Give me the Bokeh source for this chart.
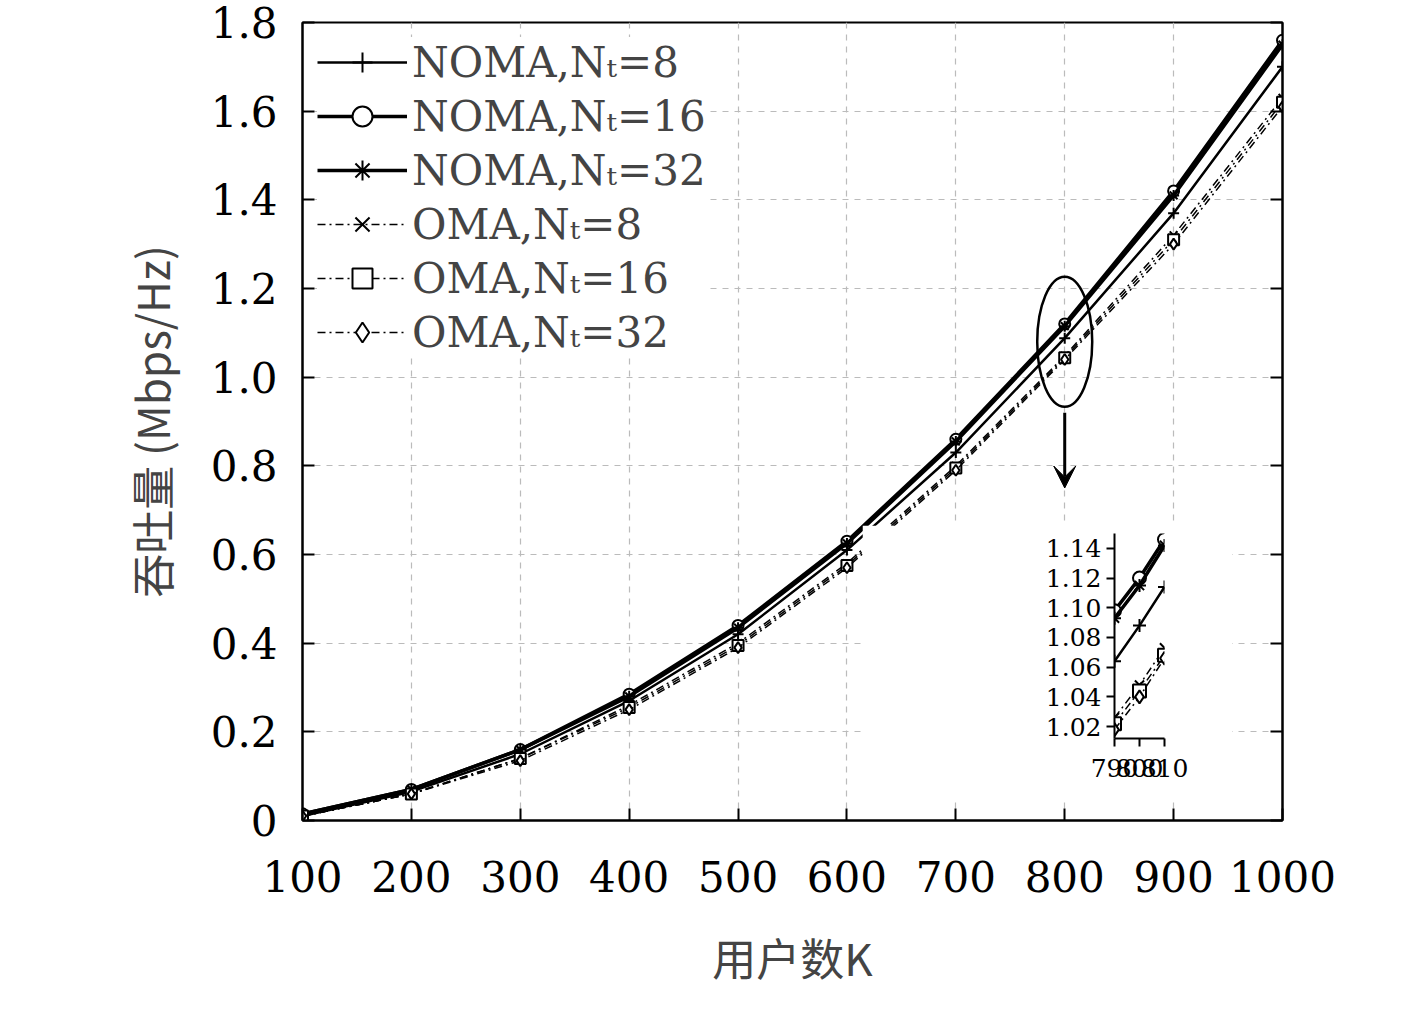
from bokeh.plotting import figure
from bokeh.models import Range1d, LinearAxis, Legend, LegendItem, Arrow, VeeHead, Ellipse, ColumnDataSource
from bokeh.layouts import column
from bokeh.embed import file_html
from bokeh.resources import INLINE

K = [100, 200, 300, 400, 500, 600, 700, 800, 900, 1000]
noma8 = [0.010, 0.065, 0.150, 0.270, 0.420, 0.610, 0.830, 1.088, 1.370, 1.700]
noma16 = [0.015, 0.070, 0.160, 0.285, 0.440, 0.630, 0.860, 1.120, 1.420, 1.760]
noma32 = [0.015, 0.070, 0.160, 0.280, 0.435, 0.625, 0.855, 1.115, 1.410, 1.750]
oma8 = [0.010, 0.060, 0.140, 0.260, 0.400, 0.580, 0.800, 1.048, 1.320, 1.630]
oma16 = [0.010, 0.060, 0.140, 0.255, 0.395, 0.575, 0.795, 1.044, 1.310, 1.620]
oma32 = [0.010, 0.060, 0.135, 0.250, 0.390, 0.570, 0.790, 1.040, 1.300, 1.610]

Kz = [790, 800, 810]
z_noma8 = [1.064, 1.088, 1.114]
z_noma16 = [1.098, 1.120, 1.146]
z_noma32 = [1.093, 1.115, 1.142]
z_oma8 = [1.026, 1.048, 1.073]
z_oma16 = [1.022, 1.044, 1.068]
z_oma32 = [1.018, 1.040, 1.066]

labels = ["NOMA,Nₜ=8", "NOMA,Nₜ=16", "NOMA,Nₜ=32", "OMA,Nₜ=8", "OMA,Nₜ=16", "OMA,Nₜ=32"]
markers = ["cross", "circle", "asterisk", "x", "square", "diamond"]
dashes = ["solid", "solid", "solid", "8 4 2 4", "8 4 2 4", "8 4 2 4"]
widths = [2.5, 3.5, 3.5, 1.5, 1.5, 1.5]

SERIF = "DejaVu Serif"

p = figure(width=1400, height=1010, output_backend="svg", toolbar_location=None,
           x_range=Range1d(100, 1000), y_range=Range1d(0, 1.8),
           min_border_left=302, min_border_right=118, min_border_top=22, min_border_bottom=190)
p.outline_line_color = "black"
p.outline_line_width = 2
p.xaxis.ticker = K
p.yaxis.ticker = [0, 0.2, 0.4, 0.6, 0.8, 1.0, 1.2, 1.4, 1.6, 1.8]
p.yaxis.major_label_overrides = {0: "0", 1: "1.0"}
for ax in [p.xaxis[0], p.yaxis[0]]:
    ax.major_label_text_font = SERIF
    ax.major_label_text_font_size = "42px"
    ax.major_label_text_color = "black"
    ax.major_tick_in = 12
    ax.major_tick_out = 0
    ax.minor_tick_line_color = None
    ax.axis_line_width = 2
    ax.major_tick_line_width = 2
    ax.axis_label_text_font = "Noto Sans CJK SC"
    ax.axis_label_text_font_size = "44px"
    ax.axis_label_text_font_style = "normal"
p.xaxis.axis_label = "用户数K"
p.yaxis.axis_label = "吞吐量 (Mbps/Hz)"
p.xaxis.major_label_standoff = 40
p.yaxis.major_label_standoff = 25
p.xaxis.axis_label_standoff = 30
p.yaxis.axis_label_standoff = 25
r_ax = LinearAxis(major_label_text_font_size="0px", major_tick_in=12, major_tick_out=0,
                  minor_tick_line_color=None, ticker=[0, 0.2, 0.4, 0.6, 0.8, 1.0, 1.2, 1.4, 1.6, 1.8],
                  major_tick_line_width=2, axis_line_width=2)
p.add_layout(r_ax, "right")
p.grid.grid_line_color = "#bbbbbb"
p.grid.grid_line_dash = "6 6"
p.grid.grid_line_width = 1.2

series = [noma8, noma16, noma32, oma8, oma16, oma32]
items = []
for s, lab, m, d, w in zip(series, labels, markers, dashes, widths):
    ln = p.line(K, s, line_color="black", line_width=w, line_dash=d)
    sc = p.scatter(K, s, marker=m, size=11, line_color="black", fill_color="white", line_width=2)
    items.append(LegendItem(label=lab, renderers=[ln, sc]))
leg = Legend(items=items, location="top_left", label_text_font=SERIF, label_text_font_size="42px",
             glyph_width=90, glyph_height=50, label_height=50, spacing=4, padding=6,
             border_line_color=None, background_fill_alpha=1.0, margin=15)
p.add_layout(leg)

p.add_glyph(ColumnDataSource(dict(x=[800], y=[1.08])),
            Ellipse(x="x", y="y", width=55, height=130, width_units="screen", height_units="screen",
                    fill_color=None, line_color="black", line_width=2.5))
p.add_layout(Arrow(x_start=800, y_start=0.92, x_end=800, y_end=0.75, line_width=3,
                   end=VeeHead(size=22, fill_color="black", line_color="black")))

ins = figure(width=370, height=275, output_backend="svg", toolbar_location=None,
             x_range=Range1d(790, 810), y_range=Range1d(1.012, 1.15),
             min_border_left=95, min_border_right=18, min_border_top=8, min_border_bottom=62,
             sizing_mode="fixed",
             styles={"position": "absolute", "left": "862px", "top": "525px",
                     "width": "370px", "height": "275px"})
ins.outline_line_color = None
ins.xgrid.grid_line_color = None
ins.ygrid.grid_line_color = None
ins.background_fill_color = "white"
ins.border_fill_color = "white"
ins.xaxis.ticker = [790, 800, 810]
ins.yaxis.ticker = [1.02, 1.04, 1.06, 1.08, 1.10, 1.12, 1.14]
ins.yaxis.major_label_overrides = {1.1: "1.10"}
for ax in [ins.xaxis[0], ins.yaxis[0]]:
    ax.major_label_text_font = SERIF
    ax.major_label_text_font_size = "25px"
    ax.major_label_text_color = "black"
    ax.major_tick_in = 0
    ax.major_tick_out = 8
    ax.minor_tick_line_color = None
    ax.axis_line_width = 2
    ax.major_tick_line_width = 2
ins.xaxis.major_label_standoff = 12
zs = [z_noma8, z_noma16, z_noma32, z_oma8, z_oma16, z_oma32]
for s, m, d, w in zip(zs, markers, dashes, widths):
    ins.line(Kz, s, line_color="black", line_width=w, line_dash=d)
    ins.scatter(Kz, s, marker=m, size=13, line_color="black", fill_color="white", line_width=2)

lay = column(p, ins, styles={"position": "relative"})
open("out.html", "w").write(file_html(lay, INLINE))
